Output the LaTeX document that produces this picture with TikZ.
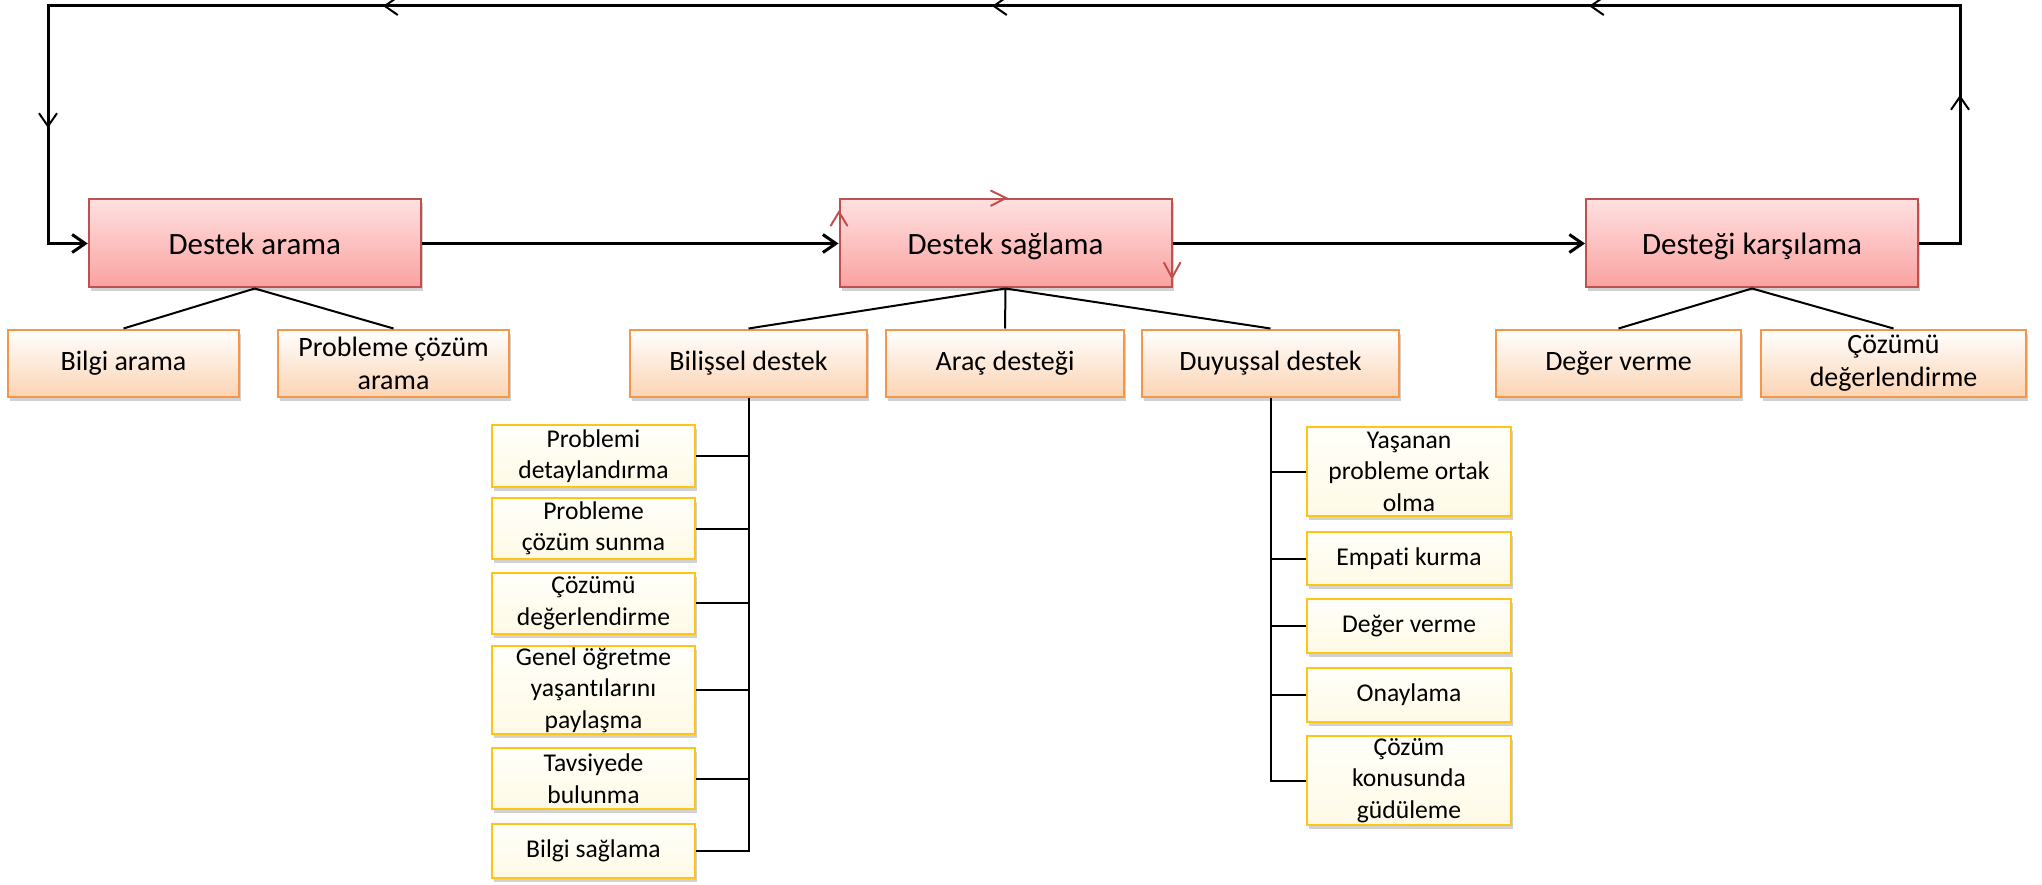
\documentclass[tikz,border=0pt]{standalone}
\usepackage{fontspec}
\setmainfont{Carlito}[Ligatures=NoCommon]
\usetikzlibrary{arrows.meta,shadows,decorations.markings,calc}

\definecolor{mainedge}{RGB}{192,80,77}
\definecolor{maintop}{RGB}{255,224,224}
\definecolor{mainbot}{RGB}{249,162,160}
\definecolor{subedge}{RGB}{247,150,70}
\definecolor{subtop}{RGB}{255,255,255}
\definecolor{subbot}{RGB}{251,212,180}
\definecolor{leafedge}{RGB}{255,196,20}
\definecolor{leaftop}{RGB}{255,255,250}
\definecolor{leafbot}{RGB}{255,250,230}

\tikzset{chev/.tip={Straight Barb[length=13pt,width=18pt]}}

\begin{document}
\begin{tikzpicture}[x=1pt,y=-1pt,
  box/.style={draw, line width=2pt, inner sep=0pt, align=center,
    drop shadow={shadow xshift=2pt, shadow yshift=-4pt, opacity=0.18, fill=black}},
  mainbox/.style={box, draw=mainedge, top color=maintop, bottom color=mainbot,
    minimum width=332pt, minimum height=88pt, text depth=0pt,
    font=\fontsize{31}{37}\selectfont},
  subbox/.style={box, draw=subedge, top color=subtop, bottom color=subbot,
    minimum height=67pt, font=\fontsize{28}{33}\selectfont},
  leafbox/.style={box, draw=leafedge, top color=leaftop, bottom color=leafbot,
    font=\fontsize{25.6}{31.5}\selectfont},
  lleaf/.style={leafbox, minimum width=203pt},
  rleaf/.style={leafbox, minimum width=204pt},
  flow/.style={line width=3pt, black},
  tree/.style={line width=2pt, black},
  redtip/.style={line width=2pt, draw=mainedge, line cap=round, line join=miter},
]
\useasboundingbox (0,0) rectangle (2042,885);

% main stages
\node[mainbox] (m1) at (254.75,243.5) {Destek arama};
\node[mainbox] (m2) at (1005.5,243.5) {Destek sağlama};
\node[mainbox] (m3) at (1752,243.5) {Desteği karşılama};

% second level
\node[subbox, minimum width=231pt] (a1) at (123.5,363) {Bilgi arama};
\node[subbox, minimum width=231pt] (a2) at (393.5,363) {Probleme çözüm\\arama};
\node[subbox, minimum width=237pt] (b1) at (748.5,363) {Bilişsel destek};
\node[subbox, minimum width=238pt] (b2) at (1005,363) {Araç desteği};
\node[subbox, minimum width=257pt] (b3) at (1270.5,363) {Duyuşsal destek};
\node[subbox, minimum width=245pt] (c1) at (1618.5,363) {Değer verme};
\node[subbox, minimum width=265pt] (c2) at (1893.5,363) {Çözümü\\değerlendirme};

% cognitive support items
\node[lleaf, minimum height=61.5pt] (l1) at (593.5,456) {Problemi\\detaylandırma};
\node[lleaf, minimum height=61pt]   (l2) at (593.5,528.5) {Probleme\\çözüm sunma};
\node[lleaf, minimum height=61pt]   (l3) at (593.5,603.3) {Çözümü\\değerlendirme};
\node[lleaf, minimum height=88pt]   (l4) at (593.5,690) {Genel öğretme\\yaşantılarını\\paylaşma};
\node[lleaf, minimum height=61pt]   (l5) at (593.5,778.5) {Tavsiyede\\bulunma};
\node[lleaf, minimum height=54pt]   (l6) at (593.5,851) {Bilgi sağlama};

% affective support items
\node[rleaf, minimum height=89pt] (r1) at (1409,471.5) {Yaşanan\\probleme ortak\\olma};
\node[rleaf, minimum height=53pt] (r2) at (1409,558.5) {Empati kurma};
\node[rleaf, minimum height=54pt] (r3) at (1409,626) {Değer verme};
\node[rleaf, minimum height=54pt] (r4) at (1409,695) {Onaylama};
\node[rleaf, minimum height=89pt] (r5) at (1409,780.5) {Çözüm\\konusunda\\güdüleme};

% process flow
\draw[flow,-chev] (m1.east) -- (m2.west);
\draw[flow,-chev] (m2.east) -- (m3.west);

\coordinate (rt) at (1960,6);
\coordinate (lt) at (48,6);
\draw[flow,-chev, postaction=decorate, decoration={markings,
    mark=at position 189.5pt with {\arrow[line width=2pt]{chev}},
    mark=at position 649.5pt with {\arrow[line width=2pt]{chev}},
    mark=at position 1246.5pt with {\arrow[line width=2pt]{chev}},
    mark=at position 1855.5pt with {\arrow[line width=2pt]{chev}},
    mark=at position 2312.5pt with {\arrow[line width=2pt]{chev}}}]
  (m3.east) -| (rt) -- (lt) |- (m1.west);

% cycle marks on the providing stage
\draw[redtip] ($(m2.north west)+(-7.8,27.2)$) -- ($(m2.north west)+(0.5,13.5)$) -- ($(m2.north west)+(8.8,27.2)$);
\draw[redtip] ($(m2.north)+(-14.5,-7.8)$) -- ($(m2.north)+(0.5,-0.5)$) -- ($(m2.north)+(-14.5,7.2)$);
\draw[redtip] ($(m2.south east)+(-8.5,-25.8)$) -- ($(m2.south east)+(-0.5,-10.8)$) -- ($(m2.south east)+(7.8,-25.8)$);

% hierarchy links
\draw[tree] (m1.south) -- (a1.north);
\draw[tree] (m1.south) -- (a2.north);
\draw[tree] (m2.south) -- (b1.north);
\draw[tree] (m2.south) -- (b2.north);
\draw[tree] (m2.south) -- (b3.north);
\draw[tree] (m3.south) -- (c1.north);
\draw[tree] (m3.south) -- (c2.north);

\draw[tree] (b1.south) |- (l6.east);
\foreach \n in {l1,l2,l3,l4,l5}
  \draw[tree] (\n.east) -- (\n.east -| b1.south);

\draw[tree] (b3.south) |- (r5.west);
\foreach \n in {r1,r2,r3,r4}
  \draw[tree] (\n.west) -- (\n.west -| b3.south);
\end{tikzpicture}
\end{document}
